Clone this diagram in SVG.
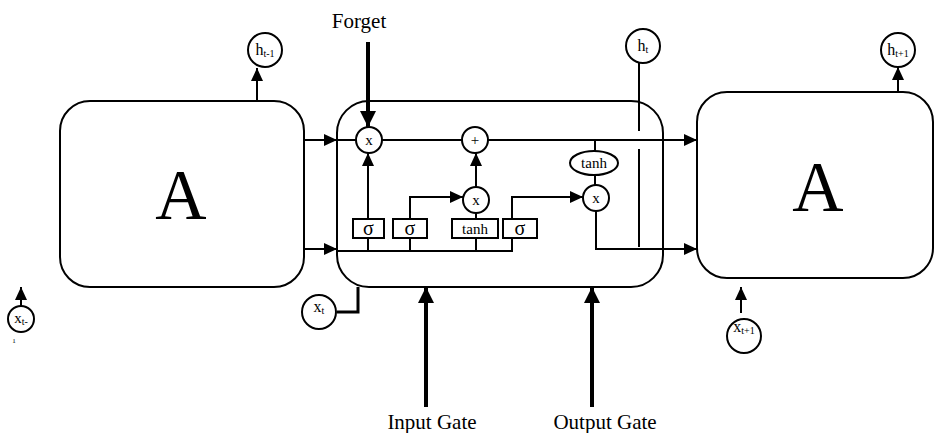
<svg xmlns="http://www.w3.org/2000/svg" width="934" height="433" viewBox="0 0 934 433">
<style>
.box{fill:#fff;stroke:#000;stroke-width:2}
.nd{fill:#fff;stroke:#000;stroke-width:2}
.ln{fill:none;stroke:#000;stroke-width:2}
.thk{fill:none;stroke:#000;stroke-width:4}
.t{font-family:"Liberation Serif","Times New Roman",serif;fill:#000;text-anchor:middle}
.big{font-size:71px}
.lbl{font-size:21px}
.s{font-size:15px}
.sg{font-size:20px}
.sub{font-size:10px}
</style>
<defs>
<marker id="ar" markerUnits="userSpaceOnUse" markerWidth="14" markerHeight="14" refX="13" refY="7" orient="auto">
<path d="M0,1 L13,7 L0,13 z" fill="#000"/>
</marker>
<marker id="arT" markerUnits="userSpaceOnUse" markerWidth="17" markerHeight="17" refX="16" refY="8.5" orient="auto">
<path d="M0,0.5 L16,8.5 L0,16.5 z" fill="#000"/>
</marker>
</defs>

<g id="connectors">
<line class="ln" x1="304" y1="140" x2="337" y2="140" marker-end="url(#ar)"/>
<line class="ln" x1="304" y1="249" x2="337" y2="249" marker-end="url(#ar)"/>
<line class="ln" x1="257" y1="101" x2="257" y2="68" marker-end="url(#ar)"/>
<line class="ln" x1="898" y1="92" x2="898" y2="67" marker-end="url(#ar)"/>
<line class="ln" x1="337" y1="140" x2="356" y2="140"/>
<line class="ln" x1="382" y1="140" x2="462" y2="140"/>
<line class="ln" x1="488" y1="140" x2="697" y2="140" marker-end="url(#ar)"/>
<line class="thk" x1="368" y1="42" x2="368" y2="127" marker-end="url(#arT)"/>
<line class="ln" x1="368" y1="219" x2="368" y2="153" marker-end="url(#ar)"/>
<polyline class="ln" points="410,219 410,197 463,197" marker-end="url(#ar)"/>
<line class="ln" x1="476" y1="219" x2="476" y2="213"/>
<line class="ln" x1="476" y1="187" x2="476" y2="153" marker-end="url(#ar)"/>
<polyline class="ln" points="512,219 512,197 583,197" marker-end="url(#ar)"/>
<line class="ln" x1="595" y1="140" x2="595" y2="151"/>
<line class="ln" x1="595" y1="175" x2="595" y2="185"/>
<polyline class="ln" points="596,211 596,249 697,249" marker-end="url(#ar)"/>
<polyline class="ln" points="337,251 512,251 512,238"/>
<line class="ln" x1="368" y1="251" x2="368" y2="238"/>
<line class="ln" x1="410" y1="251" x2="410" y2="238"/>
<line class="ln" x1="476" y1="251" x2="476" y2="238"/>
<line class="ln" x1="639" y1="63" x2="639" y2="131"/>
<line class="ln" x1="639" y1="149" x2="639" y2="247"/>
<polyline class="ln" points="337,312 358,312 358,287" style="stroke-width:3"/>
<line class="ln" x1="21" y1="306" x2="21" y2="287" marker-end="url(#ar)"/>
<line class="ln" x1="741" y1="313" x2="741" y2="287" marker-end="url(#ar)"/>
<line class="thk" x1="426" y1="407" x2="426" y2="287" marker-end="url(#arT)"/>
<line class="thk" x1="592" y1="407" x2="592" y2="287" marker-end="url(#arT)"/>
</g>

<g id="cellLeft">
<rect class="box" x="60" y="101" width="244" height="186" rx="30" ry="30"/>
<text class="t big" x="181" y="219">A</text>
</g>
<g id="cellMid">
<rect class="box" x="337" y="101" width="326" height="186" rx="32" ry="32" style="fill:none"/>
</g>
<g id="cellRight">
<rect class="box" x="697" y="92" width="236" height="186" rx="30" ry="30"/>
<text class="t big" x="818" y="211">A</text>
</g>

<g id="forgetMul"><circle class="nd" cx="369" cy="140" r="13"/><text class="t s" x="369" y="145">x</text></g>
<g id="plus"><circle class="nd" cx="475" cy="140" r="13"/><text class="t s" x="475" y="145">+</text></g>
<g id="inputMul"><circle class="nd" cx="476" cy="200" r="13"/><text class="t s" x="476" y="205">x</text></g>
<g id="outputMul"><circle class="nd" cx="596" cy="198" r="13"/><text class="t s" x="596" y="203">x</text></g>
<g id="tanhOut"><ellipse class="nd" cx="594" cy="163" rx="24" ry="12"/><text class="t s" x="594" y="168">tanh</text></g>

<g id="sigma1"><rect class="nd" x="353" y="219" width="31" height="19"/><text class="t sg" x="368.5" y="235">σ</text></g>
<g id="sigma2"><rect class="nd" x="393" y="219" width="34" height="19"/><text class="t sg" x="410" y="235">σ</text></g>
<g id="tanhBox"><rect class="nd" x="452" y="219" width="46" height="19"/><text class="t s" x="475" y="234">tanh</text></g>
<g id="sigma3"><rect class="nd" x="503" y="219" width="34" height="19"/><text class="t sg" x="520" y="235">σ</text></g>

<g id="hPrev"><circle class="nd" cx="265" cy="50" r="17"/><text class="t" x="265" y="55"><tspan style="font-size:16px">h</tspan><tspan class="sub" dy="2">t-1</tspan></text></g>
<g id="hT"><circle class="nd" cx="643" cy="46" r="17"/><text class="t" x="643" y="51"><tspan style="font-size:16px">h</tspan><tspan class="sub" dy="2">t</tspan></text></g>
<g id="hNext"><circle class="nd" cx="898" cy="50" r="17"/><text class="t" x="898" y="55"><tspan style="font-size:16px">h</tspan><tspan class="sub" dy="2">t+1</tspan></text></g>
<g id="xT"><circle class="nd" cx="319" cy="312" r="17"/><text class="t" x="319" y="312"><tspan style="font-size:16px">x</tspan><tspan class="sub" dy="2">t</tspan></text></g>
<g id="xPrev"><circle class="nd" cx="21" cy="319" r="13"/><text class="t" x="21" y="323"><tspan style="font-size:15px">x</tspan><tspan class="sub" dy="2">t-</tspan></text><text class="t" style="font-size:7px" x="14" y="343">1</text></g>
<g id="xNext"><circle class="nd" cx="744" cy="336" r="17"/><text class="t" x="744" y="332"><tspan style="font-size:16px">x</tspan><tspan class="sub" dy="2">t+1</tspan></text></g>

<g id="labels">
<text class="t lbl" x="359" y="28">Forget</text>
<text class="t lbl" x="432" y="429">Input Gate</text>
<text class="t lbl" x="605" y="429">Output Gate</text>
</g>
</svg>
